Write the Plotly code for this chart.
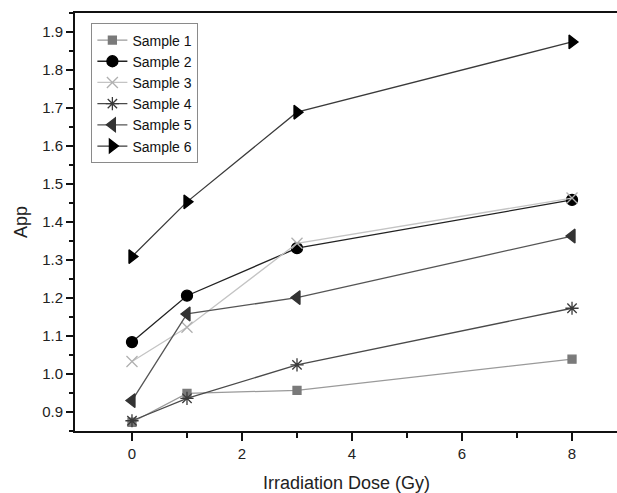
import plotly.graph_objects as go

dose = [0, 1, 3, 8]

sample1 = [0.873, 0.949, 0.957, 1.039]
sample2 = [1.084, 1.206, 1.331, 1.458]
sample3 = [1.033, 1.123, 1.344, 1.463]
sample4 = [0.877, 0.936, 1.024, 1.173]
sample5 = [0.930, 1.158, 1.201, 1.363]
sample6 = [1.309, 1.453, 1.689, 1.874]

names = ['Sample 1', 'Sample 2', 'Sample 3', 'Sample 4', 'Sample 5', 'Sample 6']
series = [sample1, sample2, sample3, sample4, sample5, sample6]

styles = [
    dict(line='#9a9a9a', marker='#7a7a7a', symbol='square', size=8),
    dict(line='#222222', marker='#000000', symbol='circle', size=11),
    dict(line='#c4c4c4', marker='#b0b0b0', symbol='x-thin-open', size=11),
    dict(line='#4a4a4a', marker='#3a3a3a', symbol='asterisk-open', size=11),
    dict(line='#555555', marker='#333333', symbol='triangle-left', size=12),
    dict(line='#3a3a3a', marker='#000000', symbol='triangle-right', size=12),
]

fig = go.Figure()

for name, vals, st in zip(names, series, styles):
    fig.add_trace(go.Scatter(
        x=dose, y=vals, name=name,
        mode='lines+markers',
        line=dict(color=st['line'], width=1.3),
        marker=dict(symbol=st['symbol'], size=st['size'], color=st['marker'],
                    line=dict(color=st['marker'], width=1.3)),
    ))

# x title as an annotation so it stays centred on the visible part of the plot
fig.add_annotation(
    text='Irradiation Dose (Gy)', xref='paper', yref='paper',
    x=0.48, y=0, yshift=-40, xanchor='center', yanchor='top',
    showarrow=False, font=dict(size=18, color='#222222'),
)

# the original frame is cropped on the right: make the figure a bit wider
# than the window so its right edge falls outside the picture
fig.update_layout(
    width=640, height=493,
    paper_bgcolor='white', plot_bgcolor='white',
    margin=dict(l=75, r=0, t=13, b=62),
    font=dict(family='Arial, Liberation Sans, sans-serif', color='#222222'),
    showlegend=True,
    legend=dict(
        x=0.029, y=0.975, xanchor='left', yanchor='top',
        bordercolor='#8a8a8a', borderwidth=1,
        font=dict(size=14, color='#111111'),
        tracegroupgap=0, itemwidth=30,
        bgcolor='white',
    ),
    xaxis=dict(
        range=[-1.036, 9.236],
        tickvals=[0, 2, 4, 6, 8],
        ticks='outside', ticklen=8, tickwidth=2, tickcolor='#111111',
        minor=dict(tickvals=[1, 3, 5, 7, 9], ticks='outside', ticklen=5, tickwidth=2, tickcolor='#111111'),
        showline=True, linecolor='#111111', linewidth=2, mirror=True,
        showgrid=False, zeroline=False,
        tickfont=dict(size=15, color='#222222'),
    ),
    yaxis=dict(
        range=[0.85, 1.95],
        tickvals=[0.9, 1.0, 1.1, 1.2, 1.3, 1.4, 1.5, 1.6, 1.7, 1.8, 1.9],
        ticktext=['0.9', '1.0', '1.1', '1.2', '1.3', '1.4', '1.5', '1.6', '1.7', '1.8', '1.9'],
        ticks='outside', ticklen=7, tickwidth=2, tickcolor='#111111',
        minor=dict(dtick=0.05, tick0=0.85, ticks='outside', ticklen=4, tickwidth=1.5, tickcolor='#111111'),
        showline=True, linecolor='#111111', linewidth=2,
        showgrid=False, zeroline=False,
        tickfont=dict(size=15, color='#222222'),
        title=dict(text='App', font=dict(size=18, color='#222222'), standoff=10),
    ),
)

fig.write_html(
    "out.html",
    config={'displayModeBar': False},
    post_script="document.body.style.margin='0';document.body.style.overflow='hidden';",
)
